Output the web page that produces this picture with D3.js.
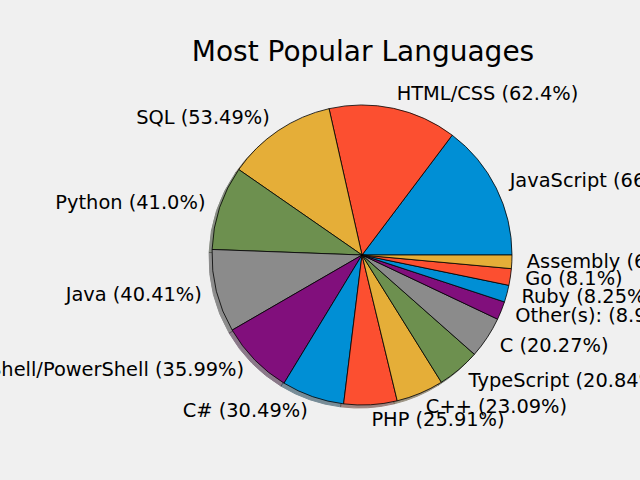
<!DOCTYPE html>
<html>
<head>
<meta charset="utf-8">
<script src="https://cdn.jsdelivr.net/npm/d3@7"></script>
<style>
  html, body { margin: 0; padding: 0; background: #f0f0f0; }
  svg { display: block; font-family: "DejaVu Sans", sans-serif; }
</style>
</head>
<body>
<div id="chart"></div>
<script>
var languages = ['JavaScript', 'HTML/CSS', 'SQL', 'Python', 'Java', 'Bash/Shell/PowerShell',
    'C#', 'PHP', 'C++', 'TypeScript', 'C', 'Other(s):', 'Ruby', 'Go', 'Assembly'];
var shares = [66.63, 62.4, 53.49, 41.0, 40.41, 35.99, 30.49, 25.91, 23.09, 20.84, 20.27, 8.91, 8.25, 8.1, 6.56];
var shareText = ['66.63', '62.4', '53.49', '41.0', '40.41', '35.99', '30.49', '25.91', '23.09', '20.84', '20.27', '8.91', '8.25', '8.1', '6.56'];
var colors = ['#008fd5', '#fc4f30', '#e5ae38', '#6d904f', '#8b8b8b', '#810f7c'];

var width = 640, height = 480;
var cx = 362, cy = 255, radius = 150;

var svg = d3.select('#chart').append('svg')
    .attr('width', width)
    .attr('height', height)
    .attr('viewBox', [0, 0, width, height]);

svg.append('rect').attr('width', width).attr('height', height).attr('fill', '#f0f0f0');

// matplotlib starts at 3 o'clock and goes counter clockwise
var pie = d3.pie().sort(null)
    .startAngle(Math.PI / 2)
    .endAngle(Math.PI / 2 - 2 * Math.PI);
var arcs = pie(shares);
var arc = d3.arc().innerRadius(0).outerRadius(radius);

function shadowColor(c) {
    var rgb = d3.rgb(c);
    return d3.rgb(rgb.r * 0.3, rgb.g * 0.3, rgb.b * 0.3).formatHex();
}

// shadows underneath
svg.append('g')
    .attr('transform', 'translate(' + (cx - 3) + ',' + (cy + 3) + ')')
    .selectAll('path')
    .data(arcs)
    .enter()
    .append('path')
    .attr('d', arc)
    .attr('fill', (d, i) => shadowColor(colors[i % colors.length]))
    .attr('stroke', (d, i) => shadowColor(colors[i % colors.length]))
    .attr('opacity', 0.5);

svg.append('g')
    .attr('transform', 'translate(' + cx + ',' + cy + ')')
    .selectAll('path')
    .data(arcs)
    .enter()
    .append('path')
    .attr('d', arc)
    .attr('fill', (d, i) => colors[i % colors.length])
    .attr('stroke', '#000')
    .attr('stroke-width', 0.8)
    .attr('stroke-linejoin', 'round');

// labels at 1.1 * radius
var labelR = radius * 1.1;
svg.append('g')
    .selectAll('text')
    .data(arcs)
    .enter()
    .append('text')
    .attr('x', d => cx + labelR * Math.sin((d.startAngle + d.endAngle) / 2))
    .attr('y', d => cy - labelR * Math.cos((d.startAngle + d.endAngle) / 2))
    .attr('dy', '0.3em')
    .attr('text-anchor', d => Math.sin((d.startAngle + d.endAngle) / 2) > 0 ? 'start' : 'end')
    .attr('font-size', '19.4px')
    .attr('fill', '#000')
    .text((d, i) => languages[i] + ' (' + shareText[i] + '%)');

svg.append('text')
    .attr('x', cx + 1)
    .attr('y', 61)
    .attr('text-anchor', 'middle')
    .attr('font-size', '28px')
    .attr('fill', '#000')
    .text('Most Popular Languages');
</script>
</body>
</html>
